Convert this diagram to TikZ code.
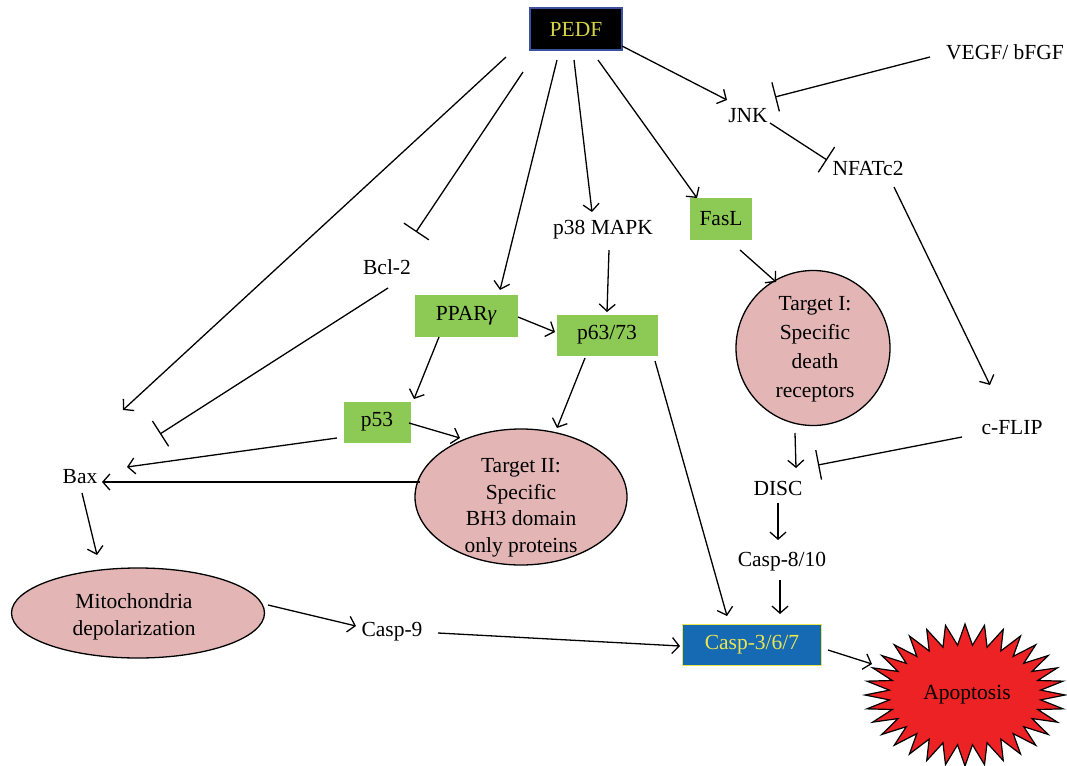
\documentclass[tikz,border=0pt]{standalone}
\usepackage{fontspec}
\setmainfont{Liberation Serif}
\usetikzlibrary{arrows.meta,shapes.geometric}
\definecolor{gboxc}{RGB}{141,201,85}
\definecolor{pinkfill}{RGB}{227,181,181}
\definecolor{cblue}{RGB}{22,106,180}
\definecolor{cyell}{RGB}{236,230,80}
\definecolor{pyell}{RGB}{214,212,72}
\definecolor{apred}{RGB}{237,34,36}
\definecolor{pedfborder}{RGB}{60,80,160}
\begin{document}
\begin{tikzpicture}[x=1pt,y=-1pt, font=\fontsize{21.5}{28}\selectfont, line width=1.3pt,
  lbl/.style={inner sep=2pt},
  gbox/.style={fill=gboxc, minimum height=42pt, inner sep=0pt},
  target/.style={ellipse, draw, fill=pinkfill, inner sep=0pt},
  act/.style={-{Straight Barb[length=7pt,width=16pt,line width=1.3pt]}},
  inh/.style={-{Bar[width=30pt,line width=1.3pt]}}]
\useasboundingbox (0,0) rectangle (1067,765);
% nodes
\node[fill=black, draw=pedfborder, line width=1.5pt, text=pyell, minimum width=92pt, minimum height=42pt, inner sep=0pt] (pedf) at (576,29) {PEDF};
\node[lbl] (vegf) at (1005,52) {VEGF/ bFGF};
\node[lbl] (jnk) at (748,116) {JNK};
\node[lbl] (nfat) at (868,168) {NFATc2};
\node[gbox, minimum width=62pt] (fasl) at (721,219) {FasL};
\node[lbl] (p38) at (603,230) {p38 MAPK};
\node[lbl] (bcl) at (387,267) {Bcl-2};
\node[gbox, minimum width=103pt] (ppar) at (466,316) {PPAR{\itshape γ}};
\node[gbox, minimum width=101pt, minimum height=41pt] (p63) at (607,335) {p63/73};
\node[target, minimum width=154pt, minimum height=155pt] (t1) at (813,348) {};
\node[align=center, inner sep=0pt, font=\fontsize{21.5}{29}\selectfont] (t1txt) at (815,349) {Target I:\\Specific\\death\\receptors};
\node[lbl] (cflip) at (1012,428) {c-FLIP};
\node[lbl] (disc) at (778,488) {DISC};
\node[lbl] (c8) at (782,562) {Casp-8/10};
\node[gbox, minimum width=67pt, minimum height=41pt] (p53) at (377,422) {p53};
\node[lbl] (bax) at (80,477) {Bax};
\node[target, minimum width=212pt, minimum height=136pt] (t2) at (521,497) {};
\node[align=center, inner sep=0pt, font=\fontsize{21.5}{26.5}\selectfont] (t2txt) at (521,508) {Target II:\\Specific\\BH3 domain\\only proteins};
\node[target, minimum width=253pt, minimum height=90pt] (mito) at (138,613) {};
\node[align=center, inner sep=0pt, font=\fontsize{21.5}{27}\selectfont] (mitotxt) at (134,617) {Mitochondria\\depolarization};
\node[lbl] (casp9) at (392,632) {Casp-9};
\node[fill=cblue, draw=cyell, line width=1.3pt, text=cyell, minimum width=139pt, minimum height=41pt, inner sep=0pt] (casp) at (752,645) {Casp-3/6/7};
% starburst
\begin{scope}[shift={(965,695)}]
\draw[fill=apred, line width=1.2pt] (0:100 and 71)
  \foreach \i in {1,...,31}{ -- ({(\i-0.5)*360/32}:76 and 50) -- ({\i*360/32}:100 and 71)}
  -- ({31.5*360/32}:76 and 50) -- cycle;
\end{scope}
\node[lbl] (apop) at (967,695) {Apoptosis};
% connectors
\draw[act] ([shift={(46,17)}]pedf.center) -- ([shift={(-21,-16)}]jnk.center);
\draw[inh] ([shift={(-75,5)}]vegf.center) -- ([shift={(27,-19)}]jnk.center);
\draw[inh] ([shift={(22,7)}]jnk.center) -- ([shift={(-41,-8)}]nfat.center);
\draw[act] ([shift={(26,19)}]nfat.center) -- ([shift={(-22,-43)}]cflip.center);
\draw[act] ([shift={(22,31)}]pedf.center) -- ([shift={(-24,-21)}]fasl.center);
\draw[act] ([shift={(-2,31)}]pedf.center) -- ([shift={(-11,-18)}]p38.center);
\draw[act] ([shift={(-19,31)}]pedf.center) -- ([shift={(34,-26)}]ppar.center);
\draw[inh] ([shift={(-53,43)}]pedf.center) -- ([shift={(29,-35)}]bcl.center);
\draw[act] ([shift={(-70,28)}]pedf.center) -- ([shift={(43,-67)}]bax.center);
\draw[inh] ([shift={(1,21)}]bcl.center) -- ([shift={(80,-43)}]bax.center);
\draw[act] ([shift={(6,20)}]p38.center) -- ([shift={(0,-23)}]p63.center);
\draw[act] ([shift={(52,1)}]ppar.center) -- ([shift={(-52,-3)}]p63.center);
\draw[act] ([shift={(-27,21)}]ppar.center) -- ([shift={(37,-23)}]p53.center);
\draw[act] ([shift={(-22,23)}]p63.center) -- ([shift={(36,-69)}]t2.center);
\draw[act] ([shift={(48,26)}]p63.center) -- ([shift={(-25,-29)}]casp.center);
\draw[act] ([shift={(19,31)}]fasl.center) -- ([shift={(-37,-66)}]t1.center);
\draw[act] ([shift={(32,1)}]p53.center) -- ([shift={(-61,-59)}]t2.center);
\draw[act] ([shift={(-40,16)}]p53.center) -- ([shift={(47,-10)}]bax.center);
\draw[act] ([shift={(-101,-15)}]t2.center) -- ([shift={(22,5)}]bax.center);
\draw[act] ([shift={(2,16)}]bax.center) -- ([shift={(-41,-58)}]mito.center);
\draw[act] ([shift={(130,-8)}]mito.center) -- ([shift={(-36,-6)}]casp9.center);
\draw[act] ([shift={(46,1)}]casp9.center) -- ([shift={(-72,1)}]casp.center);
\draw[act] ([shift={(-18,85)}]t1.center) -- ([shift={(18,-20)}]disc.center);
\draw[inh] ([shift={(-50,9)}]cflip.center) -- ([shift={(40,-23)}]disc.center);
\draw[act] ([shift={(0,15)}]disc.center) -- ([shift={(-4,-22)}]c8.center);
\draw[act] ([shift={(-2,18)}]c8.center) -- ([shift={(28,-31)}]casp.center);
\draw[act] ([shift={(76,5)}]casp.center) -- ([shift={(-95,-31)}]apop.center);
\end{tikzpicture}
\end{document}
